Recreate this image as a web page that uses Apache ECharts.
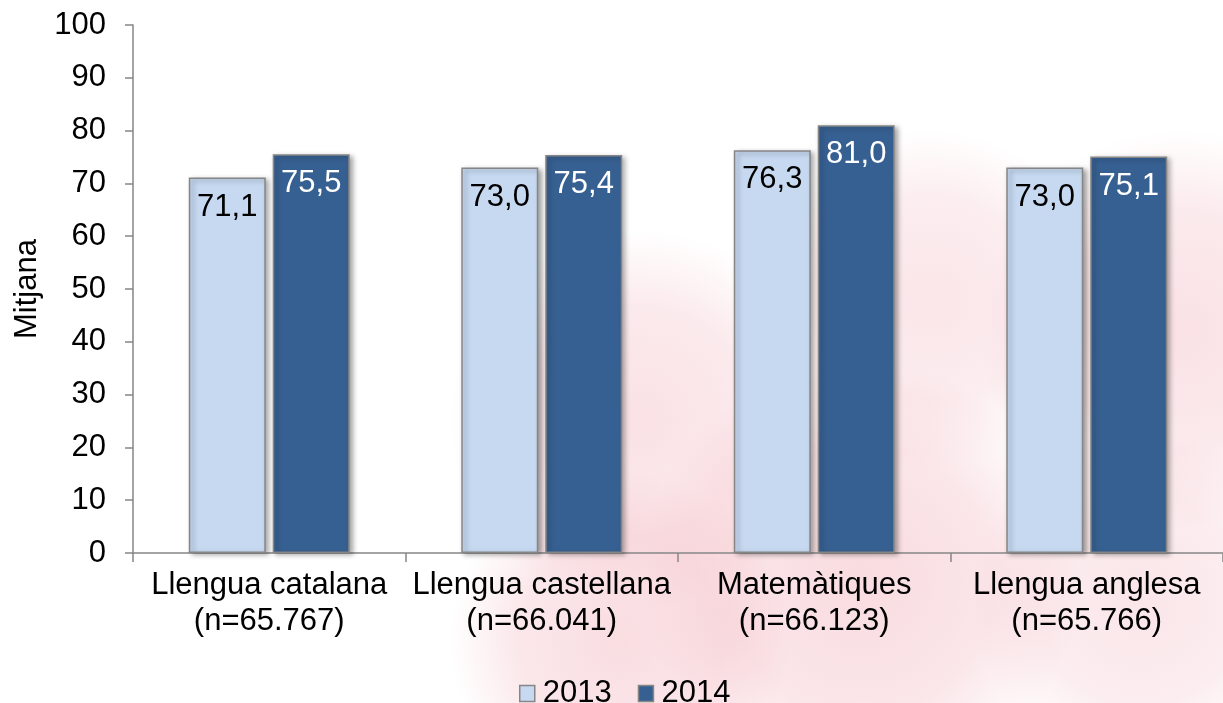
<!DOCTYPE html>
<html>
<head>
<meta charset="utf-8">
<script src="https://cdn.jsdelivr.net/npm/echarts@6/dist/echarts.min.js"></script>
<style>
  html, body { margin: 0; padding: 0; background: #fff; }
  #chart { width: 1223px; height: 703px; }
</style>
</head>
<body>
<div id="chart"></div>
<script>
// dades
const categories = [
  "Llengua catalana\n(n=65.767)",
  "Llengua castellana\n(n=66.041)",
  "Matemàtiques\n(n=66.123)",
  "Llengua anglesa\n(n=65.766)"
];
const values2013 = [71.1, 73.0, 76.3, 73.0];
const values2014 = [75.5, 75.4, 81.0, 75.1];
const yTicks = [0, 10, 20, 30, 40, 50, 60, 70, 80, 90, 100];

const FONT = "Liberation Sans, Arial, sans-serif";
const FONT_SIZE = 31;
const AXIS_GREY = "#868686";

const chart = echarts.init(document.getElementById("chart"));

// taca rosada difuminada (marca d'aigua del fons)
function blob(cx, cy, r, alpha) {
  return {
    type: "circle", silent: true, z: -10,
    shape: {cx: cx, cy: cy, r: r},
    style: {
      fill: {
        type: "radial", x: 0.5, y: 0.5, r: 0.5,
        colorStops: [
          {offset: 0, color: "rgba(240,170,180," + alpha + ")"},
          {offset: 0.6, color: "rgba(240,170,180," + alpha * 0.7 + ")"},
          {offset: 1, color: "rgba(240,170,180,0)"}
        ]
      }
    }
  };
}
const watermark = [
  blob(640, 420, 190, 0.35),
  blob(620, 640, 170, 0.4),
  blob(860, 580, 220, 0.42),
  blob(930, 300, 170, 0.3),
  blob(1180, 330, 200, 0.35),
  blob(1140, 600, 170, 0.3)
];

chart.setOption({
  backgroundColor: "#fff",
  textStyle: {fontFamily: FONT},
  animation: false,
  graphic: watermark,
  grid: {left: 133, top: 25, width: 1099, height: 528},
  legend: {
    left: 514,
    top: 673,
    icon: "rect",
    itemWidth: 15,
    itemHeight: 16,
    itemGap: 26,
    textStyle: {fontSize: FONT_SIZE, color: "#000", fontFamily: FONT, padding: [0, 0, 0, 3]},
    data: [
      {name: "2013", itemStyle: {borderColor: AXIS_GREY, borderWidth: 1.5}},
      {name: "2014", itemStyle: {borderColor: AXIS_GREY, borderWidth: 1.5}}
    ]
  },
  xAxis: {
    type: "category",
    data: categories,
    axisLine: {lineStyle: {color: AXIS_GREY, width: 1.5}},
    axisTick: {show: true, length: 9, alignWithLabel: false, lineStyle: {color: AXIS_GREY, width: 1.5}},
    axisLabel: {
      interval: 0,
      margin: 14,
      fontSize: FONT_SIZE,
      lineHeight: 36,
      color: "#000",
      fontFamily: FONT
    }
  },
  yAxis: {
    type: "value",
    min: yTicks[0],
    max: yTicks[yTicks.length - 1],
    interval: 10,
    name: "Mitjana",
    nameLocation: "middle",
    nameGap: 88,
    nameTextStyle: {fontSize: FONT_SIZE, color: "#000", fontFamily: FONT},
    splitLine: {show: false},
    axisLine: {show: true, lineStyle: {color: AXIS_GREY, width: 1.5}},
    axisTick: {show: true, length: 8, lineStyle: {color: AXIS_GREY, width: 1.5}},
    axisLabel: {margin: 27, fontSize: FONT_SIZE, color: "#000", fontFamily: FONT}
  },
  series: [
    {
      name: "2013",
      type: "bar",
      data: values2013,
      barWidth: 77,
      barGap: "9%",
      itemStyle: {
        color: "#c6d9f1",
        borderColor: AXIS_GREY,
        borderWidth: 1.5,
        shadowColor: "rgba(0,0,0,0.35)",
        shadowBlur: 5,
        shadowOffsetX: 3,
        shadowOffsetY: 2
      },
      label: {
        show: true,
        position: "insideTop",
        distance: 14,
        fontSize: FONT_SIZE,
        color: "#000",
        fontFamily: FONT,
        formatter: p => p.value.toFixed(1).replace(".", ",")
      }
    },
    {
      name: "2014",
      type: "bar",
      data: values2014,
      barWidth: 77,
      barGap: "9%",
      itemStyle: {
        color: "#376092",
        borderColor: AXIS_GREY,
        borderWidth: 1.5,
        shadowColor: "rgba(0,0,0,0.35)",
        shadowBlur: 5,
        shadowOffsetX: 3,
        shadowOffsetY: 2
      },
      label: {
        show: true,
        position: "insideTop",
        distance: 14,
        fontSize: FONT_SIZE,
        color: "#fff",
        fontFamily: FONT,
        formatter: p => p.value.toFixed(1).replace(".", ",")
      }
    }
  ]
});
</script>
</body>
</html>
